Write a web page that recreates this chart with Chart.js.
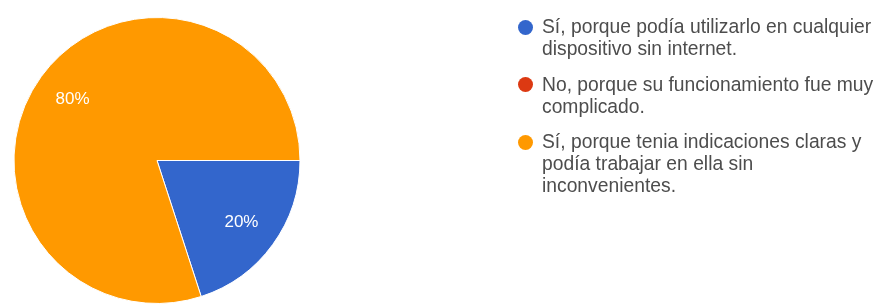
<!DOCTYPE html>
<html>
<head>
<meta charset="utf-8">
<script src="https://cdn.jsdelivr.net/npm/chart.js@4.4.0/dist/chart.umd.min.js"></script>
<style>
  html, body { margin: 0; padding: 0; background: #fff; overflow: hidden; }
  #wrap { position: relative; width: 878px; height: 304px; }
  #chart { position: absolute; left: 0; top: 0; }
  #legend { position: absolute; left: 518px; top: 16px; width: 360px;
    font-family: "Liberation Sans", Arial, sans-serif; font-size: 19.3px; line-height: 22px; color: #4d4d4d; }
  .item { position: relative; padding-left: 24px; margin-bottom: 13.5px; white-space: nowrap; }
  .dot { position: absolute; left: -0.5px; top: 3.5px; width: 15px; height: 15px; border-radius: 50%; }
</style>
</head>
<body>
<div id="wrap">
  <canvas id="chart" width="878" height="304"></canvas>
  <div id="legend"></div>
</div>
<script>
const categories = [
  ["Sí, porque podía utilizarlo en cualquier", "dispositivo sin internet."],
  ["No, porque su funcionamiento fue muy", "complicado."],
  ["Sí, porque tenia indicaciones claras y", "podía trabajar en ella sin", "inconvenientes."]
];
const values = [20, 0, 80];
const colors = ["#3366cc", "#dc3912", "#ff9900"];

const pctLabels = {
  id: 'pctLabels',
  afterDatasetsDraw(chart) {
    const ctx = chart.ctx;
    const meta = chart.getDatasetMeta(0);
    const total = values.reduce((a, b) => a + b, 0);
    ctx.save();
    ctx.fillStyle = '#ffffff';
    ctx.font = '17px "Liberation Sans", Arial, sans-serif';
    ctx.textAlign = 'center';
    ctx.textBaseline = 'middle';
    meta.data.forEach((arc, i) => {
      if (!values[i]) return;
      const p = arc.getProps(['x', 'y', 'startAngle', 'endAngle', 'outerRadius'], true);
      const mid = (p.startAngle + p.endAngle) / 2;
      const r = p.outerRadius * 0.73;
      const pct = Math.round(values[i] / total * 100) + '%';
      ctx.fillText(pct, p.x + Math.cos(mid) * r, p.y + Math.sin(mid) * r);
    });
    ctx.restore();
  }
};

new Chart(document.getElementById('chart'), {
  type: 'pie',
  data: {
    labels: categories.map(l => l.join(' ')),
    datasets: [{
      data: values,
      backgroundColor: colors,
      borderColor: '#ffffff',
      borderWidth: 1
    }]
  },
  options: {
    responsive: false,
    animation: false,
    rotation: 90,
    layout: { padding: { left: 13, right: 577, top: 17, bottom: 0 } },
    plugins: { legend: { display: false }, tooltip: { enabled: false } }
  },
  plugins: [pctLabels]
});

const legend = document.getElementById('legend');
categories.forEach((lines, i) => {
  const item = document.createElement('div');
  item.className = 'item';
  const dot = document.createElement('span');
  dot.className = 'dot';
  dot.style.background = colors[i];
  item.appendChild(dot);
  lines.forEach((t, j) => {
    if (j) item.appendChild(document.createElement('br'));
    item.appendChild(document.createTextNode(t));
  });
  legend.appendChild(item);
});
</script>
</body>
</html>
